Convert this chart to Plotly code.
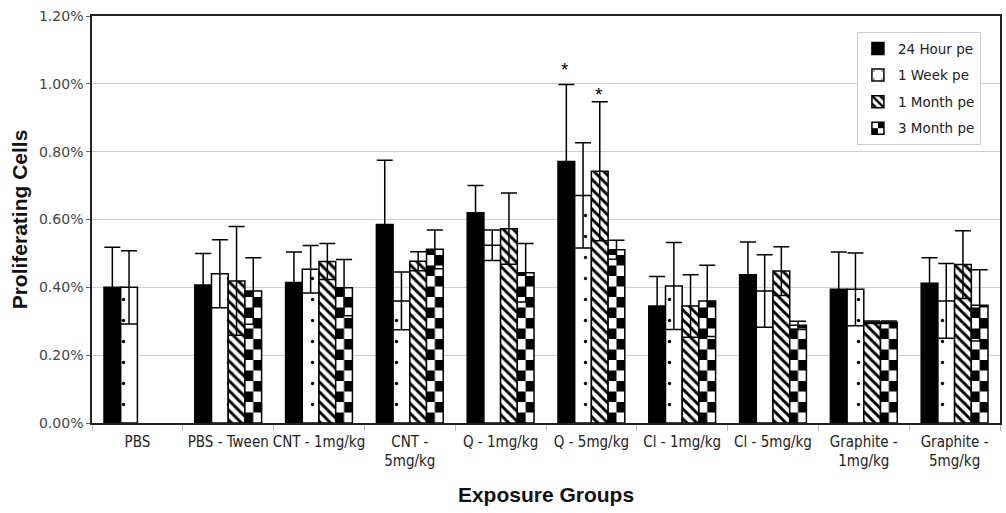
import plotly.graph_objects as go

categories = ["PBS", "PBS - Tween", "CNT - 1mg/kg", "CNT -<br>5mg/kg", "Q - 1mg/kg",
              "Q - 5mg/kg", "Cl - 1mg/kg", "Cl - 5mg/kg", "Graphite -<br>1mg/kg", "Graphite -<br>5mg/kg"]

series_names = ["24 Hour pe", "1 Week pe", "1 Month pe", "3 Month pe"]

# values in percent
h24 = [0.400, 0.407, 0.414, 0.585, 0.620, 0.771, 0.345, 0.437, 0.394, 0.412]
h24_err = [0.118, 0.093, 0.090, 0.190, 0.080, 0.227, 0.087, 0.097, 0.110, 0.075]

w1 = [0.400, 0.440, 0.453, 0.360, 0.524, 0.671, 0.404, 0.389, 0.394, 0.360]
w1_err = [0.108, 0.100, 0.070, 0.085, 0.045, 0.155, 0.128, 0.107, 0.107, 0.110]

m1 = [None, 0.419, 0.476, 0.477, 0.573, 0.742, 0.345, 0.448, 0.297, 0.467]
m1_err = [None, 0.160, 0.053, 0.028, 0.105, 0.205, 0.092, 0.072, 0.004, 0.100]

m3 = [None, 0.389, 0.399, 0.512, 0.443, 0.511, 0.360, 0.288, 0.297, 0.347]
m3_err = [None, 0.098, 0.083, 0.057, 0.086, 0.028, 0.105, 0.012, 0.004, 0.105]

tick_vals = [0, 0.2, 0.4, 0.6, 0.8, 1.0, 1.2]
tick_text = [f"{v:.2f}%" for v in tick_vals]

# significance markers: (category index, series index)
sig_marks = [(5, 0), (5, 2)]

values = [h24, w1, m1, m3]
errors = [h24_err, w1_err, m1_err, m3_err]

patterns = [
    dict(shape=""),
    dict(shape=".", fgcolor="black", bgcolor="white", fgopacity=1, size=21, solidity=0.02),
    dict(shape="\\", fgcolor="black", bgcolor="white", fgopacity=1, size=7, solidity=0.42),
    dict(shape="+", fgcolor="black", bgcolor="white", fgopacity=1, size=17, solidity=0.5),
]
fills = ["black", "white", "white", "white"]

fig = go.Figure()
for i in range(4):
    fig.add_trace(go.Bar(
        x=categories, y=values[i], name=series_names[i],
        legendgroup=series_names[i],
        marker=dict(color=fills[i], line=dict(color="black", width=1.5), pattern=patterns[i]),
        error_y=dict(type="data", array=errors[i], visible=True, color="black",
                     thickness=1.5, width=8),
    ))

offsets_px = [-25, -8.4, 8.4, 25]
yshifts = [3, -5]
for (ci, si), ys in zip(sig_marks, yshifts):
    fig.add_annotation(x=categories[ci], y=values[si][ci] + errors[si][ci],
                       text="*", showarrow=False, xshift=offsets_px[si] - 1, yshift=ys,
                       yanchor="bottom",
                       font=dict(family="Liberation Sans, Arial", size=19, color="black"))

fig.update_layout(
    width=1006, height=513,
    margin=dict(l=92, r=6, t=16, b=90),
    paper_bgcolor="white", plot_bgcolor="white",
    barmode="group", bargap=0.264, bargroupgap=0,
    showlegend=True,
    legend=dict(x=0.979, y=0.96, xanchor="right", yanchor="top",
                bordercolor="#cccccc", borderwidth=1, bgcolor="white",
                font=dict(family="DejaVu Sans", size=13.5, color="#222"),
                traceorder="grouped", tracegroupgap=6),
    xaxis=dict(type="category", tickson="boundaries", ticks="outside", ticklen=6,
               tickcolor="#bbbbbb", showline=True, linecolor="#222", linewidth=1.5,
               mirror=True, showgrid=False, tickangle=0, automargin=False,
               ticklabelstandoff=4,
               tickfont=dict(family="DejaVu Sans Condensed, DejaVu Sans", size=15, color="#222"),
               title=dict(text="<b>Exposure Groups</b>", standoff=18,
                          font=dict(family="Liberation Sans, Arial", size=21, color="#111"))),
    yaxis=dict(range=[0, 1.2], tickmode="array", tickvals=tick_vals, ticktext=tick_text,
               ticks="outside", ticklen=4, tickcolor="#666", automargin=False,
               showline=True, linecolor="#222", linewidth=1.5, mirror=True,
               showgrid=True, gridcolor="#cfcfcf", gridwidth=1, zeroline=False,
               tickfont=dict(family="DejaVu Sans", size=14, color="#444"),
               title=dict(text="<b>Proliferating Cells</b>", standoff=6,
                          font=dict(family="Liberation Sans, Arial", size=21, color="#111"))),
)

# page margin reset + checkerboard fill for the "3 Month pe" bars
# (SVG pattern applied to the plotly-drawn bars)
post_js = r"""
(function(){
document.documentElement.style.margin = '0';
document.body.style.margin = '0';
document.body.style.overflow = 'hidden';
var gd = document.getElementById('{plot_id}');
var NS = 'http://www.w3.org/2000/svg';
function mk(tag, attrs){ var e = document.createElementNS(NS, tag); for (var k in attrs) e.setAttribute(k, attrs[k]); return e; }
function checker(defs, id, x, y, cw, ch){
  var old = document.getElementById(id); if (old) old.parentNode.removeChild(old);
  var p = mk('pattern', {id: id, patternUnits: 'userSpaceOnUse', x: x, y: y, width: 2*cw, height: 2*ch});
  p.appendChild(mk('rect', {x: 0, y: 0, width: 2*cw, height: 2*ch, fill: 'white'}));
  p.appendChild(mk('rect', {x: cw, y: 0, width: cw, height: ch, fill: 'black'}));
  p.appendChild(mk('rect', {x: 0, y: ch, width: cw, height: ch, fill: 'black'}));
  defs.appendChild(p);
}
function apply(){
  var svg = gd.querySelector('svg.main-svg');
  if (!svg) return;
  var defs = svg.querySelector('defs');
  var traces = gd.querySelectorAll('.barlayer .trace.bars');
  if (traces.length < 4) return;
  var pts = traces[3].querySelectorAll('.point path');
  pts.forEach(function(el, i){
    var b = el.getBBox();
    if (!b.width || !b.height) return;
    var id = 'chk-bar-' + i;
    checker(defs, id, b.x, b.y + b.height, b.width / 2, 10.5);
    el.style.fill = "url('#" + id + "')";
  });
  var leg = gd.querySelectorAll('.legend .traces');
  if (leg.length >= 4) {
    var lp = leg[3].querySelector('.legendpoints path');
    if (lp) {
      var lb = lp.getBBox();
      checker(defs, 'chk-leg', lb.x, lb.y, lb.width / 2, lb.height / 2);
      lp.style.fill = "url('#chk-leg')";
    }
  }
}
apply();
})();
"""

fig.write_html("out.html", post_script=post_js, config={"displayModeBar": False})
